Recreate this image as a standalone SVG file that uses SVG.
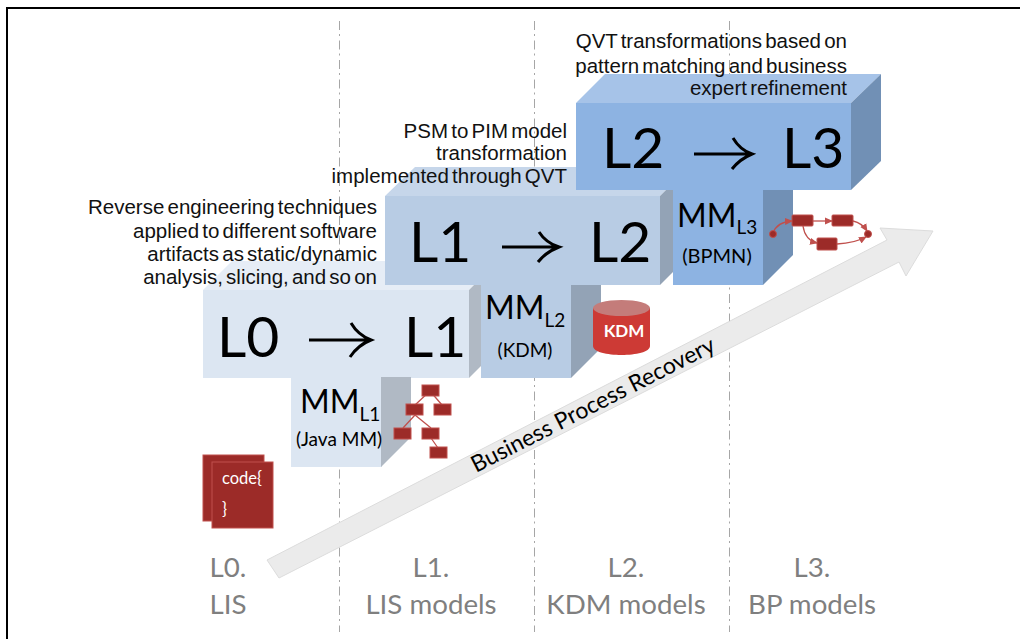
<svg xmlns="http://www.w3.org/2000/svg" width="1020" height="639" viewBox="0 0 1020 639">
<style>
text{font-family:Lato,"Open Sans",sans-serif;fill:#000}
.cap{font-family:"Liberation Sans",Arial,sans-serif;font-size:20.500px;word-spacing:-2.500px;text-anchor:end;fill:#111}
.big{font-size:57px}
.mm{font-size:32px}
.sub{font-size:19px}
.sm{font-size:19px;text-anchor:middle}
.lv{font-size:27.700px;fill:#7f7f7f;text-anchor:middle}
.arr{stroke:#000;stroke-width:3;fill:none}
.div{stroke:#a6a6a6;stroke-width:1;stroke-dasharray:9 4 2 4.500;fill:none}
.red{fill:#9c2b28;stroke:#c0504d;stroke-width:1}
.lnk{stroke:#c0504d;stroke-width:1.300;fill:none}
</style>
<defs>
<marker id="tip" markerUnits="userSpaceOnUse" markerWidth="8" markerHeight="8" refX="7" refY="4" orient="auto"><path d="M0,0.500L8,4L0,7.500z" fill="#c0504d"/></marker>
</defs>
<rect width="1020" height="639" fill="#fff"/>
<path d="M7,639V8H1020" fill="none" stroke="#000" stroke-width="2"/>
<g id="dividers">
<path class="div" d="M339.500,21V632"/>
<path class="div" d="M534.500,21V632"/>
<path class="div" d="M729.500,21V632"/>
</g>
<g id="recovery-arrow">
<path d="M267,560L887,240L880,228L933,231L906,276L899,262L279,578Z" fill="#ebebeb" stroke="#dcdcdc" stroke-width="1"/>
<text transform="translate(476,473) rotate(-27)" style="font-size:23px">Business Process Recovery</text>
</g>
<g id="t-l0-l1">
<path d="M203,290L232,261H498L469,290Z" fill="#e6edf6"/>
<path d="M469,290L498,261V349L469,378Z" fill="#b0b9c4"/>
<rect x="203" y="290" width="266" height="88" fill="#dce6f2"/>
<text class="big" x="217" y="357">L0</text>
<path class="arr" d="M309,340H369M351,323Q358,335 371,340Q358,345 350,357"/>
<text class="big" x="404" y="357">L1</text>
</g>
<g id="mm-l1">
<rect x="291" y="377" width="91" height="90" fill="#dce6f2"/>
<path d="M381,377H411V437L381,467Z" fill="#b0b9c4"/>
<text class="mm" x="300" y="413">MM<tspan class="sub" dy="8">L1</tspan></text>
<text class="sm" x="339" y="446">(Java MM)</text>
</g>
<g id="t-l1-l2">
<path d="M385,196L415,167H689L660,196Z" fill="#c6d6ea"/>
<path d="M660,196L689,167V256L660,285Z" fill="#93a3b6"/>
<rect x="385" y="196" width="275" height="89" fill="#b8cce4"/>
<text class="big" x="409" y="262">L1</text>
<path class="arr" d="M502,247H557M539,232Q546,243 559,247Q546,252 538,262"/>
<text class="big" x="589" y="262">L2</text>
</g>
<g id="mm-l2">
<path d="M481,285H571V378H481Z" fill="#b8cce4"/>
<path d="M571,285H601V348L571,378Z" fill="#93a3b6"/>
<text class="mm" x="485" y="319">MM<tspan class="sub" dy="8">L2</tspan></text>
<text class="sm" x="525" y="357">(KDM)</text>
</g>
<g id="t-l2-l3">
<path d="M576,103L605,74H881L851,103Z" fill="#a6c3e8"/>
<path d="M851,103L881,74V161L851,190Z" fill="#7190b5"/>
<rect x="576" y="103" width="275" height="87" fill="#8db3e2"/>
<text class="big" x="602" y="168">L2</text>
<path class="arr" d="M694,154H749M733,138Q740,150 752,154Q740,159 732,169"/>
<text class="big" x="782" y="168">L3</text>
</g>
<g id="mm-l3">
<path d="M673,190H763V285H673Z" fill="#8db3e2"/>
<path d="M763,190H793V255L763,285Z" fill="#7190b5"/>
<text class="mm" x="677" y="227">MM<tspan class="sub" dy="7">L3</tspan></text>
<text class="sm" x="717" y="263" style="font-size:20px">(BPMN)</text>
</g>
<g id="caption-top">
<text class="cap" x="847" y="48">QVT transformations based on</text>
<text class="cap" x="847" y="73">pattern matching and business</text>
<text class="cap" x="847" y="95">expert refinement</text>
</g>
<g id="caption-mid">
<text class="cap" x="567" y="138">PSM to PIM model</text>
<text class="cap" x="567" y="160">transformation</text>
<text class="cap" x="567" y="183">implemented through QVT</text>
</g>
<g id="caption-low">
<text class="cap" x="377" y="214">Reverse engineering techniques</text>
<text class="cap" x="377" y="238">applied to different software</text>
<text class="cap" x="377" y="261">artifacts as static/dynamic</text>
<text class="cap" x="377" y="284">analysis, slicing, and so on</text>
</g>
<g id="icon-tree">
<path class="lnk" d="M430,391L415,405M430,391L442,405M415,415L403,428M415,415L431,428M431,438L438,448"/>
<rect class="red" x="422" y="385" width="17" height="11"/>
<rect class="red" x="406" y="404" width="17" height="11"/>
<rect class="red" x="434" y="404" width="17" height="11"/>
<rect class="red" x="394" y="428" width="17" height="11"/>
<rect class="red" x="422" y="428" width="17" height="11"/>
<rect class="red" x="430" y="447" width="17" height="11"/>
</g>
<g id="icon-code">
<rect class="red" x="203" y="455" width="61" height="66"/>
<rect class="red" x="212" y="462" width="61" height="66"/>
<text x="222" y="484" style="font-size:16.500px;fill:#fff">code{</text>
<text x="222" y="515" style="font-size:16.500px;fill:#fff">}</text>
</g>
<g id="icon-kdm">
<path d="M593,308H650V346C650,358 593,358 593,346Z" fill="#cd3a35"/>
<ellipse cx="621.500" cy="308" rx="28.500" ry="8" fill="#c47c7a"/>
<text x="624" y="337" style="font-size:17px;font-weight:700;fill:#fff;text-anchor:middle">KDM</text>
</g>
<g id="icon-bpmn">
<path class="lnk" marker-end="url(#tip)" d="M773,233Q777,222 792,221"/>
<path class="lnk" marker-end="url(#tip)" d="M813,221H832"/>
<path class="lnk" marker-end="url(#tip)" d="M853,221Q862,223 867,231"/>
<path class="lnk" marker-end="url(#tip)" d="M803,226Q805,240 817,243"/>
<path class="lnk" marker-end="url(#tip)" d="M837,244Q855,243 866,237"/>
<circle class="red" cx="773" cy="234" r="3.500"/>
<circle class="red" cx="868" cy="234" r="3.500"/>
<rect class="red" x="792" y="215" width="21" height="11" rx="1"/>
<rect class="red" x="832" y="215" width="21" height="11" rx="1"/>
<rect class="red" x="817" y="238" width="20" height="12" rx="1"/>
</g>
<g id="levels">
<text class="lv" x="228" y="577">L0.</text>
<text class="lv" x="228" y="614">LIS</text>
<text class="lv" x="431" y="577">L1.</text>
<text class="lv" x="431" y="614">LIS models</text>
<text class="lv" x="626" y="577">L2.</text>
<text class="lv" x="626" y="614">KDM models</text>
<text class="lv" x="812" y="577">L3.</text>
<text class="lv" x="812" y="614">BP models</text>
</g>
</svg>
